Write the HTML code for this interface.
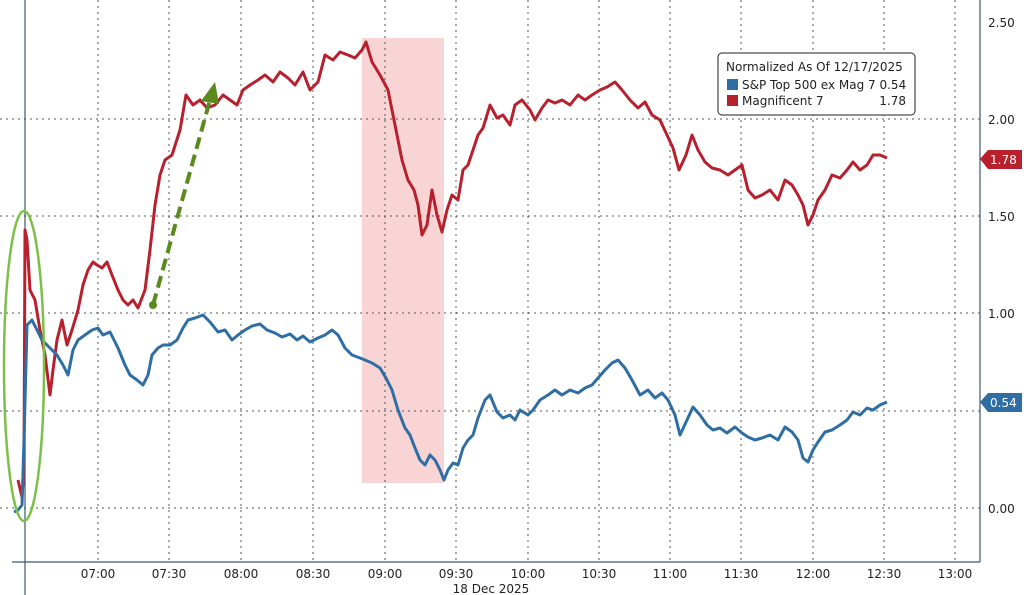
<!DOCTYPE html>
<html><head><style>body{margin:0;background:#fff}svg{display:block;font-family:"DejaVu Sans","Liberation Sans",sans-serif}</style></head><body>
<svg width="1024" height="595" viewBox="0 0 1024 595">
<rect x="362" y="38" width="82" height="445" fill="#f8d4d4"/>
<g stroke="#555" stroke-width="1" stroke-dasharray="2,4">
<line x1="0" y1="119" x2="980" y2="119"/><line x1="0" y1="216" x2="980" y2="216"/><line x1="0" y1="313" x2="980" y2="313"/><line x1="0" y1="411" x2="980" y2="411"/><line x1="0" y1="508" x2="980" y2="508"/>
<line x1="98" y1="0" x2="98" y2="562"/><line x1="169" y1="0" x2="169" y2="562"/><line x1="241" y1="0" x2="241" y2="562"/><line x1="313" y1="0" x2="313" y2="562"/><line x1="385" y1="0" x2="385" y2="562"/><line x1="456" y1="0" x2="456" y2="562"/><line x1="528" y1="0" x2="528" y2="562"/><line x1="599" y1="0" x2="599" y2="562"/><line x1="670" y1="0" x2="670" y2="562"/><line x1="741" y1="0" x2="741" y2="562"/><line x1="813" y1="0" x2="813" y2="562"/><line x1="884" y1="0" x2="884" y2="562"/><line x1="955" y1="0" x2="955" y2="562"/>
</g>
<line x1="25" y1="0" x2="25" y2="595" stroke="#3a5a75" stroke-width="1.2"/>
<line x1="12" y1="562" x2="980" y2="562" stroke="#3a5a75" stroke-width="1.2"/>
<line x1="980" y1="0" x2="980" y2="562" stroke="#3a5a75" stroke-width="1.2"/>
<g font-size="12" fill="#222" text-anchor="middle">
<text x="98" y="578">07:00</text><text x="169" y="578">07:30</text><text x="241" y="578">08:00</text><text x="313" y="578">08:30</text><text x="385" y="578">09:00</text><text x="456" y="578">09:30</text><text x="528" y="578">10:00</text><text x="599" y="578">10:30</text><text x="670" y="578">11:00</text><text x="741" y="578">11:30</text><text x="813" y="578">12:00</text><text x="884" y="578">12:30</text><text x="955" y="578">13:00</text>
<text x="491" y="593">18 Dec 2025</text>
</g>
<g font-size="12" fill="#222">
<text x="988" y="27">2.50</text><text x="988" y="124">2.00</text><text x="988" y="221">1.50</text><text x="988" y="318">1.00</text><text x="988" y="513">0.00</text>
</g>
<polyline fill="none" stroke="#b8202e" stroke-width="3" stroke-linejoin="round" points="18,480 22,497 24,470 25,230 27,240 30,290 35,300 40,330 45,355 50,395 53,370 57,340 62,320 67,345 72,330 78,310 83,285 88,270 93,262 97,265 102,268 107,262 112,275 118,290 123,300 128,305 133,300 138,308 145,290 150,250 155,205 160,175 165,160 172,155 180,130 186,95 193,105 200,100 207,108 215,105 223,95 230,100 237,105 243,90 250,85 258,80 265,75 273,82 280,72 288,78 295,85 303,72 310,90 318,82 325,55 333,60 340,52 348,55 355,58 362,50 366,42 372,62 380,75 388,90 395,125 402,160 408,180 414,190 418,205 422,235 427,225 432,190 437,215 442,232 447,210 452,195 458,200 463,170 468,165 473,150 478,135 483,128 490,105 497,118 503,115 510,125 515,105 522,100 530,110 535,120 542,108 548,100 555,103 562,100 570,105 578,95 585,100 592,95 600,90 607,87 615,82 622,90 630,100 638,108 645,102 652,115 660,120 667,135 673,148 679,170 686,155 692,135 698,150 705,162 712,168 720,170 728,175 735,170 742,165 748,190 755,198 762,195 770,190 778,200 785,180 792,185 798,195 803,205 808,225 813,215 818,200 825,190 832,175 840,178 847,170 853,162 860,170 867,165 873,155 880,155 887,158"/>
<polyline fill="none" stroke="#2f6ea5" stroke-width="3" stroke-linejoin="round" points="14,512 18,510 22,505 24,440 27,325 32,320 37,330 42,340 47,345 52,350 57,355 63,365 68,375 73,350 78,340 85,335 92,330 98,328 103,335 110,332 118,348 125,365 130,375 137,380 143,385 148,375 152,355 158,348 163,345 170,345 177,340 183,328 188,320 195,318 203,315 210,322 218,332 225,330 232,340 238,335 245,330 252,326 260,324 267,330 275,333 282,337 290,334 297,340 303,336 310,342 318,338 325,335 332,330 338,335 345,348 352,355 360,358 365,360 372,363 380,368 386,378 392,390 398,410 405,428 410,435 415,448 420,460 425,465 430,455 435,460 440,470 444,480 448,470 453,463 458,465 463,448 468,440 473,435 478,418 485,400 490,395 497,412 503,418 510,415 515,420 520,410 528,415 533,410 540,400 548,395 555,390 562,395 570,390 578,393 585,388 592,385 598,378 605,370 612,363 618,360 625,368 632,380 640,395 648,390 655,398 662,393 668,400 675,415 680,435 687,420 693,407 700,415 707,425 713,430 720,428 727,433 735,427 742,433 748,437 755,440 762,438 770,435 778,440 785,427 792,432 798,440 803,458 808,462 813,450 818,442 825,432 832,430 840,425 847,420 853,412 860,415 867,408 873,410 880,405 887,402"/>
<ellipse cx="24" cy="366" rx="20" ry="155" fill="none" stroke="#7cc04a" stroke-width="2.5"/>
<line x1="153" y1="305" x2="210" y2="100" stroke="#5a8a1e" stroke-width="4" stroke-dasharray="12,6"/>
<polygon points="215,82 201,101 219,104" fill="#5a8a1e"/>
<circle cx="153" cy="305" r="4" fill="#5a8a1e"/>
<path d="M980,159 L988,150 L1022,150 L1022,169 L988,169 Z" fill="#b8202e"/>
<text x="990" y="164" font-size="12" fill="#fff">1.78</text>
<path d="M980,402 L988,393 L1022,393 L1022,412 L988,412 Z" fill="#2f6ea5"/>
<text x="990" y="407" font-size="12" fill="#fff">0.54</text>
<rect x="718" y="53" width="197" height="62" rx="4" fill="#fff" stroke="#222" stroke-width="1"/>
<g font-size="12" fill="#222"><text x="726" y="71">Normalized As Of 12/17/2025</text>
<rect x="727" y="79" width="11" height="11" fill="#2f6ea5"/><text x="742" y="89">S&amp;P Top 500 ex Mag 7 0.54</text>
<rect x="727" y="95" width="11" height="11" fill="#b8202e"/><text x="742" y="105">Magnificent 7</text><text x="906" y="105" text-anchor="end">1.78</text></g>
</svg></body></html>
